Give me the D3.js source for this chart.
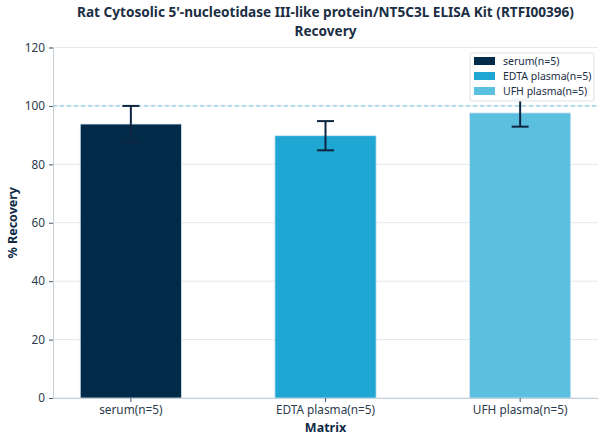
<!DOCTYPE html>
<html>
<head>
<meta charset="utf-8">
<script src="https://cdn.jsdelivr.net/npm/d3@7"></script>
<style>
  body { margin: 0; background: #fff; }
  text { font-family: "Noto Sans", sans-serif; }
</style>
</head>
<body>
<script>
// data
const categories = ["serum(n=5)", "EDTA plasma(n=5)", "UFH plasma(n=5)"];
const recovery = [93.8, 89.8, 97.6];
const errors = [6.2, 5.0, 4.7];
const barColors = ["#022b4a", "#1fa6d3", "#5bbfe0"];
const yTicks = [0, 20, 40, 60, 80, 100, 120];
const titleLines = ["Rat Cytosolic 5'-nucleotidase III-like protein/NT5C3L ELISA Kit (RTFI00396)", "Recovery"];

const W = 608, H = 444;
const margin = {top: 47.5, right: 10, bottom: 46, left: 53};

const svg = d3.select("body").append("svg")
  .attr("width", W)
  .attr("height", H);

const x = d3.scaleBand()
  .domain(categories)
  .range([margin.left, W - margin.right])
  .paddingInner(0.48)
  .paddingOuter(0.14);

const y = d3.scaleLinear()
  .domain([0, 120])
  .range([H - margin.bottom, margin.top]);

// grid lines
svg.append("g")
  .selectAll("line")
  .data(yTicks)
  .join("line")
  .attr("x1", margin.left)
  .attr("x2", W - margin.right)
  .attr("y1", d => y(d))
  .attr("y2", d => y(d))
  .style("stroke", "#e3e9ee")
  .style("stroke-width", 1);

// bars
svg.selectAll(".bar")
  .data(categories)
  .join("rect")
  .attr("class", "bar")
  .attr("x", d => x(d))
  .attr("width", x.bandwidth())
  .attr("y", (d, i) => y(recovery[i]))
  .attr("height", (d, i) => y(0) - y(recovery[i]))
  .style("fill", (d, i) => barColors[i])
  .style("stroke", "#d8e6ee")
  .style("stroke-width", 0.8);

// reference line at 100
svg.append("line")
  .attr("x1", margin.left)
  .attr("x2", W - margin.right)
  .attr("y1", y(100))
  .attr("y2", y(100))
  .style("stroke", "#6cc4e6")
  .style("stroke-width", 1)
  .style("stroke-dasharray", "4,3");

// error bars
const err = svg.append("g").selectAll("g")
  .data(categories)
  .join("g")
  .style("stroke", "#0d2540")
  .style("stroke-width", 2);

err.append("line")
  .attr("x1", d => x(d) + x.bandwidth() / 2)
  .attr("x2", d => x(d) + x.bandwidth() / 2)
  .attr("y1", (d, i) => y(recovery[i] - errors[i]))
  .attr("y2", (d, i) => y(recovery[i] + errors[i]));

[-1, 1].forEach(s => {
  err.append("line")
    .attr("x1", d => x(d) + x.bandwidth() / 2 - 8.5)
    .attr("x2", d => x(d) + x.bandwidth() / 2 + 8.5)
    .attr("y1", (d, i) => y(recovery[i] + s * errors[i]))
    .attr("y2", (d, i) => y(recovery[i] + s * errors[i]));
});

// axes
const yAxis = svg.append("g")
  .attr("transform", `translate(${margin.left},0)`)
  .call(d3.axisLeft(y).tickValues(yTicks).tickSize(4).tickPadding(4));

const xAxis = svg.append("g")
  .attr("transform", `translate(0,${y(0)})`)
  .call(d3.axisBottom(x).tickSize(4).tickPadding(4).tickSizeOuter(0));

[yAxis, xAxis].forEach(a => {
  a.select(".domain").style("stroke", "#c5d0d8");
  a.selectAll(".tick line").style("stroke", "#4a5866");
  a.selectAll(".tick text")
    .style("font-size", "11.8px")
    .style("fill", "#2b3b4c")
    .style("font-family", "'Noto Sans', sans-serif");
});

// axis titles
svg.append("text")
  .attr("x", (margin.left + W - margin.right) / 2)
  .attr("y", 432)
  .attr("text-anchor", "middle")
  .style("font-size", "12.5px")
  .style("font-weight", "bold")
  .style("fill", "#0e2a45")
  .text("Matrix");

svg.append("text")
  .attr("transform", `translate(17,${(margin.top + y(0)) / 2}) rotate(-90)`)
  .attr("text-anchor", "middle")
  .style("font-size", "12.5px")
  .style("font-weight", "bold")
  .style("fill", "#0e2a45")
  .text("% Recovery");

// title, two separate lines
svg.selectAll(".title")
  .data(titleLines)
  .join("text")
  .attr("class", "title")
  .attr("x", (margin.left + W - margin.right) / 2)
  .attr("y", (d, i) => 17 + i * 18.5)
  .attr("text-anchor", "middle")
  .style("font-size", "13.6px")
  .style("font-weight", "bold")
  .style("fill", "#1b2e44")
  .text(d => d);

// legend
const legend = svg.append("g").attr("transform", "translate(470,53)");
legend.append("rect")
  .attr("width", 124)
  .attr("height", 48)
  .attr("rx", 2)
  .style("fill", "#fff")
  .style("fill-opacity", 0.95)
  .style("stroke", "#dde3e8");

const items = legend.selectAll(".item")
  .data(categories)
  .join("g")
  .attr("class", "item")
  .attr("transform", (d, i) => `translate(4,${8 + i * 15})`);

items.append("rect")
  .attr("width", 21)
  .attr("height", 8)
  .attr("y", -4)
  .style("fill", (d, i) => barColors[i]);

items.append("text")
  .attr("x", 29)
  .attr("y", 3.5)
  .style("font-size", "10.5px")
  .style("fill", "#1b2e44")
  .text(d => d);
</script>
</body>
</html>
